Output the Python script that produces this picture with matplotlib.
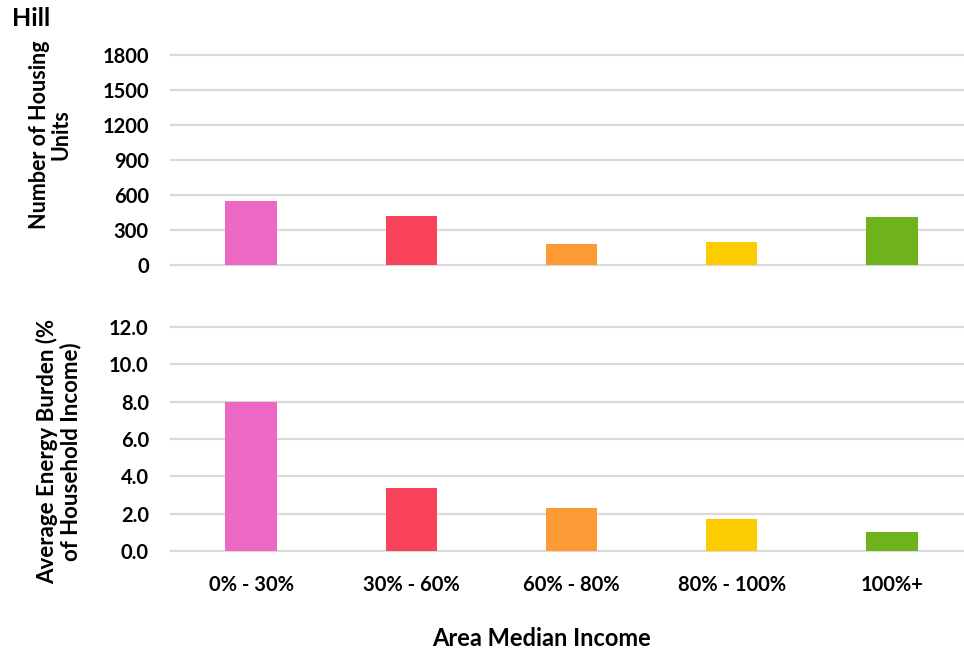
import matplotlib
matplotlib.use("Agg")
import matplotlib.pyplot as plt
import numpy as np

plt.rcParams["font.family"] = ["Lato", "DejaVu Sans"]
plt.rcParams["font.weight"] = "bold"

income_bands = ["0% - 30%", "30% - 60%", "60% - 80%", "80% - 100%", "100%+"]
housing_units = [549, 420, 180, 197, 411]
energy_burden = [8.0, 3.35, 2.3, 1.7, 1.0]
bar_colors = ["#ec68c4", "#f9435b", "#fe9a36", "#fccb00", "#6eb31b"]

fig = plt.figure(figsize=(9.64, 6.52), dpi=100)
ax_top = fig.add_axes([0.1774, 0.5936, 0.8226, 0.322])
ax_bot = fig.add_axes([0.1774, 0.1549, 0.8226, 0.3436])

x = np.arange(len(income_bands))
ax_top.bar(x, housing_units, width=0.32, color=bar_colors, zorder=3)
ax_bot.bar(x, energy_burden, width=0.32, color=bar_colors, zorder=3)

ax_top.set_ylim(0, 1800)
ax_top.set_yticks(np.arange(0, 1801, 300))
ax_bot.set_ylim(0, 12)
ax_bot.set_yticks(np.arange(0, 12.1, 2))
ax_bot.set_yticklabels([f"{v:.1f}" for v in np.arange(0, 12.1, 2)])

for ax in (ax_top, ax_bot):
    ax.set_xlim(-0.5, 4.45)
    for s in ax.spines.values():
        s.set_visible(False)
    ax.yaxis.grid(True, color="#d9d9d9", linewidth=1.6, zorder=0)
    ax.set_axisbelow(True)
    ax.tick_params(axis="y", length=0, pad=16, labelsize=14.5)
    ax.tick_params(axis="x", length=0)
    for gl in ax.get_ygridlines():
        gl.set_clip_on(False)

ax_top.set_xticks([])
ax_bot.set_xticks(x)
ax_bot.set_xticklabels(income_bands, fontsize=14.5)
ax_bot.tick_params(axis="x", pad=17)

fig.text(0.012, 0.972, "Hill", fontsize=18, fontweight="bold", va="center", ha="left")
fig.text(0.052, 0.793, "Number of Housing\nUnits", rotation=90, fontsize=15.5,
         fontweight="bold", ha="center", va="center", multialignment="center",
         linespacing=1.05)
fig.text(0.061, 0.307, "Average Energy Burden (%\nof Household Income)", rotation=90,
         fontsize=16, fontweight="bold", ha="center", va="center", multialignment="center",
         linespacing=1.05)
fig.text(0.562, 0.021, "Area Median Income", fontsize=17, fontweight="bold",
         ha="center", va="center")

fig.savefig("out.png", dpi=100)
